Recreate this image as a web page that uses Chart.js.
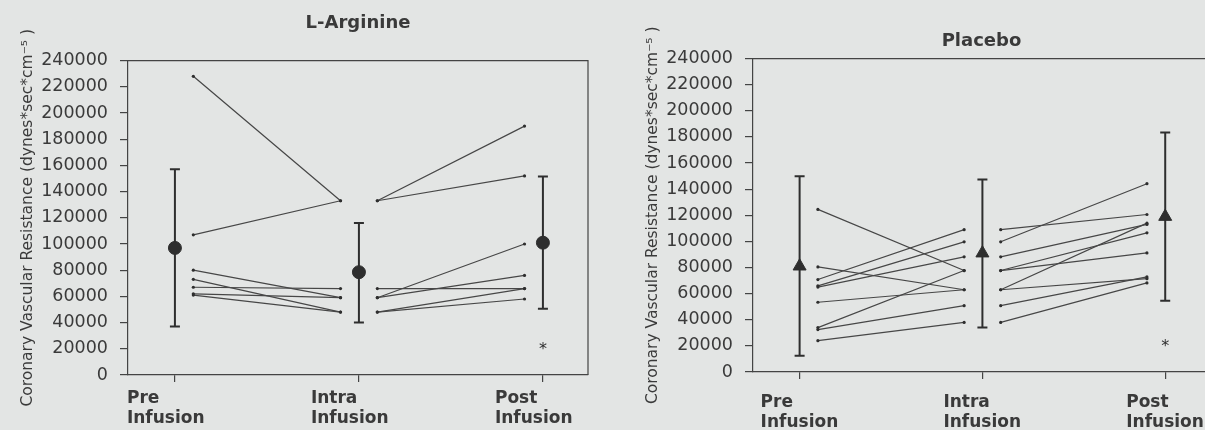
<!DOCTYPE html>
<html>
<head>
<meta charset="utf-8">
<script src="https://cdn.jsdelivr.net/npm/chart.js@4.4.1/dist/chart.umd.min.js"></script>
<style>
  html, body { margin: 0; padding: 0; background: #e3e5e4; overflow: hidden; width: 1205px; height: 430px; }
  .panel { position: absolute; top: 0; width: 600px; height: 430px; }
  #left  { left: 0; }
  #right { left: 625px; }
</style>
</head>
<body>
<div class="panel" id="left"><canvas id="cArg"></canvas></div>
<div class="panel" id="right"><canvas id="cPla"></canvas></div>
<script>
// ---- data ----
const CATEGORIES = [["Pre", "Infusion"], ["Intra", "Infusion"], ["Post", "Infusion"]];
const Y_TICKS = [0, 20000, 40000, 60000, 80000, 100000, 120000, 140000, 160000, 180000, 200000, 220000, 240000];
const Y_TITLE = "Coronary Vascular Resistance (dynes*sec*cm\u207B\u2075 )";

// L-Arginine, one entry per subject
const ARG_PRE   = [228000, 107000, 80000, 73000, 67000, 62000, 61000];
const ARG_INTRA = [133000, 133000, 59000, 48000, 66000, 59000, 48000];
const ARG_POST  = [190000, 152000, 100000, 66000, 66000, 76000, 58000];
const ARG_MEAN  = [97000, 78500, 101000];
const ARG_LOW   = [37000, 40000, 50500];
const ARG_HIGH  = [157000, 116000, 151500];
const ARG_STAR  = [{ x: 2, y: 22400 }];

// Placebo, one entry per subject
const PLA_PRE   = [124500, 80500, 70800, 66000, 65000, 53400, 34000, 32500, 24000];
const PLA_INTRA = [77700, 63000, 109000, 99700, 88200, 63000, 77700, 50800, 38000];
const PLA_POST  = [106600, 114000, 120600, 144200, 113000, 71500, 91200, 72800, 68200];
const PLA_MEAN  = [81000, 91000, 119000];
const PLA_LOW   = [12500, 34000, 54500];
const PLA_HIGH  = [150000, 147500, 183500];
const PLA_STAR  = [{ x: 2, y: 22200 }];

// ---- styling ----
const INK   = "#2e2e2e";
const LINE  = "#474747";
const TEXT  = "#3a3a3a";
const FONT  = "DejaVu Sans";
const X_OFF = 0.1;   // individual segments stop short of the category centre

function subjectSets(pre, intra, post) {
  return pre.map((p, i) => ({
    data: [
      { x: 0 + X_OFF, y: p },
      { x: 1 - X_OFF, y: intra[i] },
      { x: 1, y: null },
      { x: 1 + X_OFF, y: intra[i] },
      { x: 2 - X_OFF, y: post[i] },
    ],
    borderColor: LINE,
    borderWidth: 1.2,
    pointRadius: 1.6,
    pointBackgroundColor: INK,
    pointBorderWidth: 0,
    spanGaps: false,
    order: 3,
  }));
}

function errorSets(low, high) {
  return low.map((lo, i) => ({
    data: [{ x: i, y: lo }, { x: i, y: high[i] }],
    borderColor: INK,
    borderWidth: 2,
    pointStyle: "line",
    pointRadius: 5,
    pointBorderWidth: 2,
    pointBorderColor: INK,
    order: 2,
  }));
}

// box round the plot (top and right edges)
const frame = {
  id: "frame",
  afterDraw(chart) {
    const { ctx, chartArea: a } = chart;
    ctx.save();
    ctx.strokeStyle = "#444";
    ctx.lineWidth = 1.2;
    ctx.beginPath();
    ctx.moveTo(a.left, a.top);
    ctx.lineTo(a.right, a.top);
    ctx.lineTo(a.right, a.bottom);
    ctx.stroke();
    ctx.restore();
  },
};

// significance asterisk
const starMark = {
  id: "starMark",
  afterDatasetsDraw(chart, args, opts) {
    const { ctx, scales } = chart;
    ctx.save();
    ctx.fillStyle = INK;
    ctx.font = "16px " + FONT;
    ctx.textAlign = "center";
    ctx.textBaseline = "middle";
    opts.points.forEach((p) => {
      ctx.fillText("*", scales.x.getPixelForValue(p.x), scales.y.getPixelForValue(p.y) + 4);
    });
    ctx.restore();
  },
};

function buildChart(canvasId, cfg) {
  return new Chart(document.getElementById(canvasId), {
    type: "line",
    data: {
      datasets: [
        {
          data: cfg.mean.map((m, i) => ({ x: i, y: m })),
          showLine: false,
          pointStyle: cfg.marker,
          pointRadius: cfg.markerSize,
          pointBackgroundColor: INK,
          pointBorderColor: INK,
          order: 1,
        },
        ...errorSets(cfg.low, cfg.high),
        ...subjectSets(cfg.pre, cfg.intra, cfg.post),
      ],
    },
    plugins: [frame, starMark],
    options: {
      responsive: true,
      maintainAspectRatio: false,
      animation: false,
      layout: { padding: { left: 0, right: cfg.padRight, top: 0, bottom: 0 } },
      plugins: {
        legend: { display: false },
        tooltip: { enabled: false },
        starMark: { points: cfg.star },
        title: {
          display: true,
          text: cfg.title,
          fullSize: false,
          color: TEXT,
          font: { family: FONT, size: 18, weight: "bold" },
          padding: cfg.titlePad,
        },
      },
      scales: {
        x: {
          type: "linear",
          min: -0.255,
          max: 2.245,
          afterBuildTicks: (s) => { s.ticks = CATEGORIES.map((c, i) => ({ value: i })); },
          afterFit: (s) => { s.height = cfg.xHeight; s.paddingLeft = 0; s.paddingRight = 0; },
          ticks: {
            callback: (v) => CATEGORIES[v],
            align: "start",
            labelOffset: cfg.labelOffset,
            padding: cfg.xPad,
            autoSkip: false,
            maxRotation: 0,
            color: TEXT,
            font: { family: FONT, size: 17, weight: "bold", lineHeight: 1.2 },
          },
          grid: { drawOnChartArea: false, tickLength: 7, color: "#444", lineWidth: 1.2 },
          border: { color: "#444", width: 1.2 },
        },
        y: {
          min: 0,
          max: 240000,
          afterBuildTicks: (s) => { s.ticks = Y_TICKS.map((v) => ({ value: v })); },
          afterFit: (s) => { s.width = 128; s.paddingTop = 0; s.paddingBottom = 0; },
          ticks: {
            callback: (v) => String(v),
            padding: 12,
            color: TEXT,
            font: { family: FONT, size: 17.5 },
          },
          grid: { drawOnChartArea: false, tickLength: 8, color: "#444", lineWidth: 1.2 },
          border: { color: "#444", width: 1.2 },
          title: {
            display: true,
            text: Y_TITLE,
            color: TEXT,
            font: { family: FONT, size: 15.5 },
            padding: { top: 19, bottom: 0 },
          },
        },
      },
    },
  });
}

buildChart("cArg", {
  title: "L-Arginine",
  pre: ARG_PRE, intra: ARG_INTRA, post: ARG_POST,
  mean: ARG_MEAN, low: ARG_LOW, high: ARG_HIGH, star: ARG_STAR,
  marker: "circle", markerSize: 6.5,
  padRight: 12, titlePad: { top: 13, bottom: 26 },
  xHeight: 55, xPad: 6, labelOffset: -48,
});

buildChart("cPla", {
  title: "Placebo",
  pre: PLA_PRE, intra: PLA_INTRA, post: PLA_POST,
  mean: PLA_MEAN, low: PLA_LOW, high: PLA_HIGH, star: PLA_STAR,
  marker: "triangle", markerSize: 7.5,
  padRight: 15, titlePad: { top: 31, bottom: 6 },
  xHeight: 58, xPad: 13, labelOffset: -39,
});
</script>
</body>
</html>
